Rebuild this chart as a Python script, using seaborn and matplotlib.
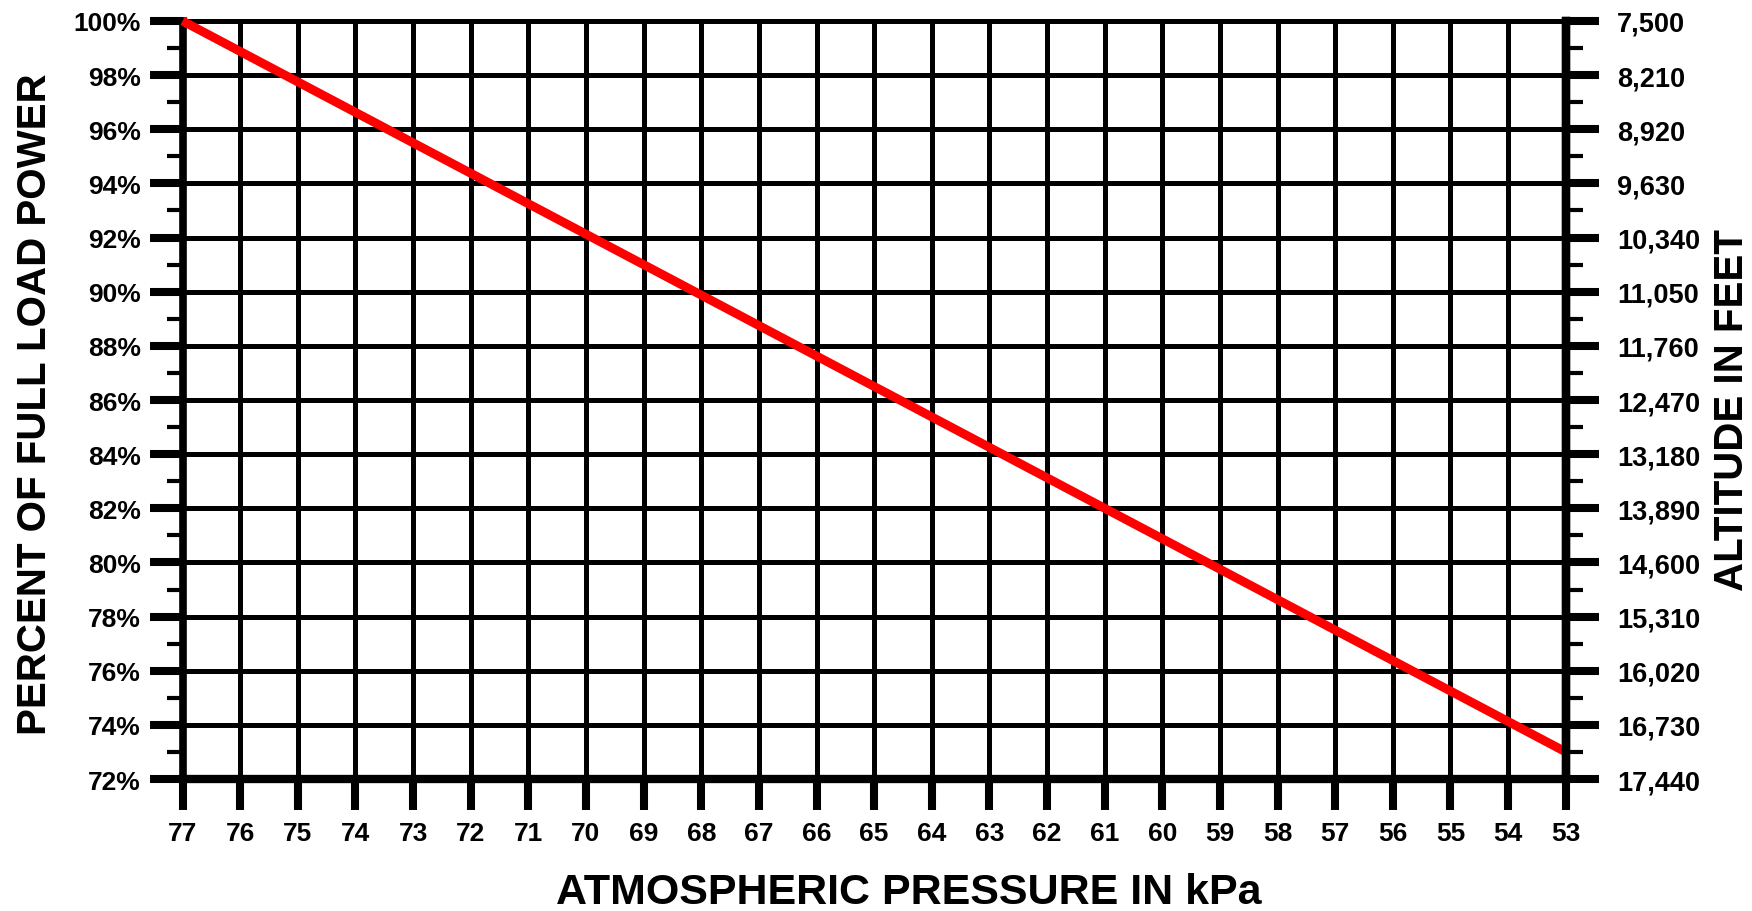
import matplotlib
matplotlib.use("Agg")
import matplotlib.pyplot as plt
import seaborn as sns
from matplotlib.ticker import MultipleLocator, FixedLocator, FixedFormatter

# data
pressure_kpa = [77, 53]
full_load_pct = [100, 73]
pct_ticks = [100, 98, 96, 94, 92, 90, 88, 86, 84, 82, 80, 78, 76, 74, 72]
altitude_ft = [7500, 8210, 8920, 9630, 10340, 11050, 11760, 12470,
               13180, 13890, 14600, 15310, 16020, 16730, 17440]
kpa_ticks = list(range(53, 78))

sns.set_style("white")
plt.rcParams['font.family'] = ['Liberation Sans', 'DejaVu Sans']
plt.rcParams['font.weight'] = 'bold'
plt.rcParams['text.color'] = 'black'
plt.rcParams['axes.labelcolor'] = 'black'
plt.rcParams['xtick.color'] = 'black'
plt.rcParams['ytick.color'] = 'black'
plt.rcParams['xtick.bottom'] = True
plt.rcParams['ytick.left'] = True

fig = plt.figure(figsize=(17.52, 9.12), dpi=100)
ax = fig.add_axes([0.1042, 0.1447, 0.7895, 0.8312])

# red power line
sns.lineplot(x=pressure_kpa, y=full_load_pct, color='#ff0000', linewidth=6.4,
             ax=ax, zorder=5, clip_on=False, solid_capstyle='butt')

ax.set_xlim(77, 53)
ax.set_ylim(72, 100)

# grid
ax.xaxis.set_major_locator(FixedLocator(kpa_ticks))
ax.yaxis.set_major_locator(FixedLocator(pct_ticks))
ax.yaxis.set_minor_locator(MultipleLocator(1))
ax.grid(True, which='major', color='black', linewidth=3.6)
ax.set_axisbelow(True)

ax.set_xticklabels([str(k) for k in kpa_ticks], fontsize=19, fontweight='bold')
ax.set_yticklabels([f"{p}%" for p in pct_ticks], fontsize=19, fontweight='bold')

ax.tick_params(axis='x', which='major', direction='out', length=22, width=5.8,
               pad=8, color='black', labelcolor='black', bottom=True)
ax.tick_params(axis='y', which='major', direction='out', length=24, width=5.8,
               pad=6, color='black', labelcolor='black', left=True)
ax.tick_params(axis='y', which='minor', direction='out', length=11.5, width=3,
               color='black', left=True)

for side, lw in [('left', 5.5), ('right', 6), ('top', 3.6), ('bottom', 6)]:
    ax.spines[side].set_color('black')
    ax.spines[side].set_linewidth(lw)

# right axis: altitude
ax2 = ax.twinx()
ax2.set_ylim(72, 100)
ax2.yaxis.set_major_locator(FixedLocator(pct_ticks))
ax2.yaxis.set_major_formatter(FixedFormatter([f"{a:,}" for a in altitude_ft]))
ax2.yaxis.set_minor_locator(MultipleLocator(1))
ax2.tick_params(axis='y', which='major', direction='out', length=24, width=5.8,
                pad=13, labelsize=19.5, color='black', labelcolor='black',
                right=True)
ax2.tick_params(axis='y', which='minor', direction='out', length=12, width=3,
                color='black', right=True)
for lab in ax2.get_yticklabels():
    lab.set_fontweight('bold')
for side in ['left', 'top', 'bottom']:
    ax2.spines[side].set_visible(False)
ax2.spines['right'].set_linewidth(6)
ax2.spines['right'].set_color('black')

ax.set_xlabel("ATMOSPHERIC PRESSURE IN kPa", fontsize=31, fontweight='bold',
              va='center', ha='center', color='black')
ax.xaxis.set_label_coords(0.525, -0.149)
ax.set_ylabel("PERCENT OF FULL LOAD POWER", fontsize=29, fontweight='bold',
              va='center', ha='center', color='black')
ax.yaxis.set_label_coords(-0.1067, 0.496)
ax2.set_ylabel("ALTITUDE IN FEET", fontsize=29, fontweight='bold', rotation=90,
               va='center', ha='center', color='black')
ax2.yaxis.set_label_coords(1.1203, 0.488)

fig.savefig("out.png", dpi=100, facecolor='white')
